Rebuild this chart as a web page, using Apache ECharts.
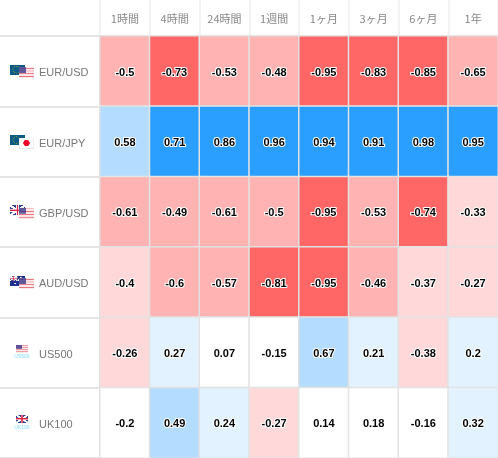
<!DOCTYPE html>
<html>
<head>
<meta charset="utf-8">
<style>html,body{margin:0;padding:0;background:#fff}#c{width:498px;height:458px}</style>
<script src="https://cdn.jsdelivr.net/npm/echarts@6/dist/echarts.min.js"></script>
</head>
<body>
<div id="c"></div>
<script>
const periods = ['1時間','4時間','24時間','1週間','1ヶ月','3ヶ月','6ヶ月','1年'];
const symbols = ['EUR/USD','EUR/JPY','GBP/USD','AUD/USD','US500','UK100'];
const eurUsd = [-0.5,-0.73,-0.53,-0.48,-0.95,-0.83,-0.85,-0.65];
const eurJpy = [0.58,0.71,0.86,0.96,0.94,0.91,0.98,0.95];
const gbpUsd = [-0.61,-0.49,-0.61,-0.5,-0.95,-0.53,-0.74,-0.33];
const audUsd = [-0.4,-0.6,-0.57,-0.81,-0.95,-0.46,-0.37,-0.27];
const us500 = [-0.26,0.27,0.07,-0.15,0.67,0.21,-0.38,0.2];
const uk100 = [-0.2,0.49,0.24,-0.27,0.14,0.18,-0.16,0.32];
const rows = [eurUsd,eurJpy,gbpUsd,audUsd,us500,uk100];
const pairFlags = [['eu','us'],['eu','jp'],['gb','us'],['au','us'],['us'],['gb']];
const indexTags = [null,null,null,null,'US500','UK100'];

const data = [];
rows.forEach((r,y)=>r.forEach((v,x)=>data.push([x,y,v])));

function flag(kind,w,h){
  const S=4, c=document.createElement('canvas');
  c.width=w*S; c.height=h*S;
  const g=c.getContext('2d'); g.scale(S,S);
  function union(W,H){
    g.fillStyle='#2b3f8f'; g.fillRect(0,0,W,H);
    g.strokeStyle='#fff'; g.lineWidth=H*0.22;
    g.beginPath(); g.moveTo(0,0); g.lineTo(W,H); g.moveTo(W,0); g.lineTo(0,H); g.stroke();
    g.lineWidth=H*0.32; g.beginPath(); g.moveTo(W/2,0); g.lineTo(W/2,H); g.moveTo(0,H/2); g.lineTo(W,H/2); g.stroke();
    g.strokeStyle='#e02040'; g.lineWidth=H*0.16;
    g.beginPath(); g.moveTo(W/2,0); g.lineTo(W/2,H); g.moveTo(0,H/2); g.lineTo(W,H/2); g.stroke();
  }
  if(kind==='eu'){
    g.fillStyle='#0c5a86'; g.fillRect(0,0,w,h);
    g.fillStyle='#6f9a3c';
    for(let i=0;i<12;i++){const a=i*Math.PI/6;
      g.fillRect(w*0.42+Math.cos(a)*3.4-0.4,h/2+Math.sin(a)*3.4-0.4,0.9,0.9);}
  } else if(kind==='us'){
    g.fillStyle='#fbe9ea'; g.fillRect(0,0,w,h);
    g.fillStyle='#e8747f';
    for(let i=0;i<4;i++) g.fillRect(0,(i*2+0.5)*h/8,w,h/14);
    g.fillStyle='rgba(60,60,140,0.82)'; g.fillRect(0,0,w*0.48,h*0.52);
  } else if(kind==='jp'){
    g.fillStyle='#fff'; g.fillRect(0,0,w,h);
    g.strokeStyle='#e6e6e6'; g.lineWidth=0.6; g.strokeRect(0.3,0.3,w-0.6,h-0.6);
    g.fillStyle='#f0002a'; g.beginPath(); g.arc(w/2,h/2,h*0.29,0,7); g.fill();
  } else if(kind==='gb'){
    union(w,h);
  } else if(kind==='au'){
    g.fillStyle='#20308f'; g.fillRect(0,0,w,h);
    g.save(); union(w*0.5,h*0.5); g.restore();
    g.fillStyle='#fff';
    [[0.35,0.78],[0.72,0.2],[0.88,0.42],[0.7,0.72],[0.58,0.45]].forEach(p=>{
      g.beginPath(); g.arc(p[0]*w,p[1]*h,0.8,0,7); g.fill();});
  }
  return c;
}

const chart = echarts.init(document.getElementById('c'),null,{renderer:'canvas'});
chart.setOption({
  animation:false,
  backgroundColor:'#fff',
  grid:{left:100,right:0,top:36,bottom:0,containLabel:false},
  xAxis:{type:'category',position:'top',data:periods,
    axisLine:{show:false},
    axisTick:{show:true,length:36,lineStyle:{color:'#f0f0f0',width:1.5}},
    axisLabel:{fontSize:11,color:'#888',margin:12,fontFamily:'"Noto Sans CJK JP",sans-serif'},
    splitLine:{show:false},splitArea:{show:false}},
  yAxis:{type:'category',inverse:true,data:symbols,
    axisLine:{show:false},
    axisTick:{show:true,length:100,lineStyle:{color:'#dddddd',width:1.5}},
    axisLabel:{align:'left',margin:61,fontSize:11,color:'#777',
      formatter:'{a|{value}}',
      rich:{a:{fontSize:11,color:'#777',padding:[4,0,0,0],fontFamily:'"Liberation Sans",Arial,sans-serif'}},
      fontFamily:'"Liberation Sans",Arial,sans-serif'},
    splitLine:{show:false},splitArea:{show:false}},
  visualMap:{show:false,type:'piecewise',dimension:2,seriesIndex:0,
    pieces:[
      {lt:-0.7,color:'#ff6666'},
      {gte:-0.7,lt:-0.4,color:'#ffb3b3'},
      {gte:-0.4,lt:-0.2,color:'#ffd9d9'},
      {gte:-0.2,lt:0.2,color:'#ffffff'},
      {gte:0.2,lte:0.4,color:'#e3f2ff'},
      {gt:0.4,lte:0.7,color:'#b3dcff'},
      {gt:0.7,color:'#2b9fff'}
    ]},
  series:[{type:'heatmap',data:data,
    itemStyle:{borderColor:'#e2e2e2',borderWidth:1.5},
    emphasis:{disabled:true},
    label:{show:true,formatter:p=>String(p.value[2]),fontSize:11,fontWeight:'bold',color:'#000',
      offset:[0,1.5],
      fontFamily:'"Liberation Sans",Arial,sans-serif',textBorderColor:'#fff',textBorderWidth:2}}]
});

const flagEls=[];
symbols.forEach((s,i)=>{
  const cy=chart.convertToPixel({yAxisIndex:0},s);
  const f=pairFlags[i];
  if(f.length===2){
    flagEls.push({type:'image',x:10,y:cy-6.5,z:10,style:{image:flag(f[0],15,10),width:15,height:10}});
    flagEls.push({type:'image',x:19,y:cy-4,z:11,style:{image:flag(f[1],15,11),width:15,height:11}});
  } else {
    flagEls.push({type:'image',x:16,y:cy-8,z:10,style:{image:flag(f[0],12,8),width:12,height:8}});
    flagEls.push({type:'text',x:22,y:cy+4.5,z:10,style:{text:indexTags[i],fontSize:5,fill:'#80dcff',align:'center',verticalAlign:'middle',fontFamily:'"Liberation Sans",Arial,sans-serif'}});
  }
});
chart.setOption({graphic:{elements:flagEls}});
</script>
</body>
</html>
